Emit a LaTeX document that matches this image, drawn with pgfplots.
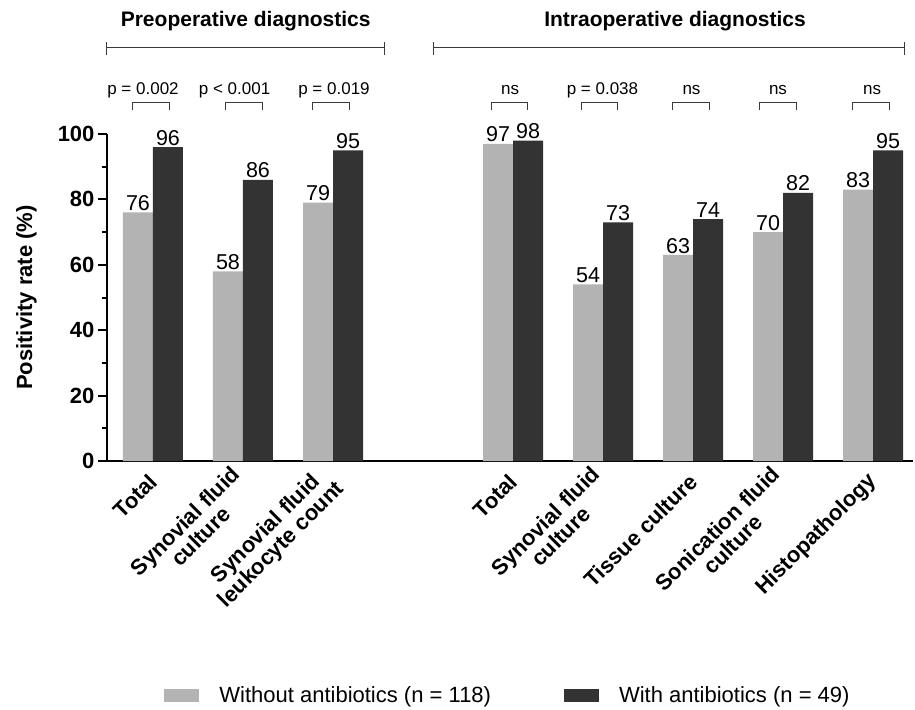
\documentclass[border=0pt]{standalone}
\usepackage{pgfplots}
\pgfplotsset{compat=1.18}
\usepackage{fontspec}
\setmainfont{Liberation Sans}
\definecolor{lightbar}{HTML}{B3B3B3}
\definecolor{darkbar}{HTML}{333333}
\definecolor{brk}{HTML}{3A3A3A}
\newcommand{\sig}[4]{%
  \draw[brk, line width=1pt] (axis cs:#1,107.3) -- (axis cs:#1,109.6) -- (axis cs:#2,109.6) -- (axis cs:#2,107.3);
  \node[anchor=base, inner sep=0pt, font=\fontsize{17pt}{17pt}\selectfont] at (axis cs:#3,112.1) {#4};}
\begin{document}
\begin{tikzpicture}
\begin{axis}[
  name=ax, at={(0,0)}, anchor=south west,
  scale only axis, width=806pt, height=327pt,
  xmin=-0.511, xmax=8.444, ymin=0, ymax=100,
  clip=false,
  axis lines=left,
  axis line style={-, line width=2.6pt, black},
  ybar=0pt, bar width=30pt,
  xtick={0,1,2,4,5,6,7,8},
  xticklabels={Total, Synovial fluid\\culture, Synovial fluid\\leukocyte count, Total, Synovial fluid\\culture, Tissue culture, Sonication fluid\\culture, Histopathology},
  x tick style={draw=none},
  xticklabel style={rotate=45, anchor=east, align=center, font=\bfseries\fontsize{22pt}{22pt}\selectfont, yshift=-6pt, xshift=-2pt},
  ytick={0,20,40,60,80,100},
  minor ytick={10,30,50,70,90},
  y tick style={line width=2pt, black},
  tick align=outside,
  major tick length=9pt, minor tick length=5pt,
  yticklabel style={font=\bfseries\fontsize{22pt}{22pt}\selectfont},
  /pgf/number format/assume math mode=true,
  ylabel={\bfseries Positivity rate (\%)},
  ylabel style={font=\fontsize{22pt}{22pt}\selectfont, at={(axis description cs:-0.0999,0.5)}, anchor=center},
  nodes near coords,
  every node near coord/.append style={font=\fontsize{21.5pt}{21.5pt}\selectfont, inner sep=1.5pt, black},
  legend columns=2,
  legend style={draw=none, inner sep=0pt, outer sep=0pt, at={(axis description cs:0.0712,-0.7156)}, anchor=west, font=\fontsize{22pt}{22pt}\selectfont, nodes={inner sep=0pt},
    /tikz/every odd column/.append style={column sep=20pt},
    /tikz/every even column/.append style={column sep=73pt}},
  legend cell align=left,
]
\addplot[fill=lightbar, draw=none, legend image code/.code={\fill[lightbar] (0pt,-6.5pt) rectangle (35pt,6.5pt);}] coordinates {(0,76) (1,58) (2,79) (4,97) (5,54) (6,63) (7,70) (8,83)};
\addlegendentry{Without antibiotics (n = 118)}
\addplot[fill=darkbar, draw=none, legend image code/.code={\fill[darkbar] (0pt,-6.5pt) rectangle (35pt,6.5pt);}] coordinates {(0,96) (1,86) (2,95) (4,98) (5,73) (6,74) (7,82) (8,95)};
\addlegendentry{With antibiotics (n = 49)}

% group headers
\draw[brk, line width=1pt] (axis cs:-0.511,126.3) -- (axis cs:2.567,126.3);
\draw[brk, line width=1pt] (axis cs:-0.511,124.2) -- (axis cs:-0.511,128.2);
\draw[brk, line width=1pt] (axis cs:2.567,124.2) -- (axis cs:2.567,128.2);
\draw[brk, line width=1pt] (axis cs:3.111,126.3) -- (axis cs:8.344,126.3);
\draw[brk, line width=1pt] (axis cs:3.111,124.2) -- (axis cs:3.111,128.2);
\draw[brk, line width=1pt] (axis cs:8.344,124.2) -- (axis cs:8.344,128.2);
\node[anchor=base, inner sep=0pt, font=\bfseries\fontsize{21pt}{21pt}\selectfont] at (axis cs:1.03,132.8) {Preoperative diagnostics};
\node[anchor=base, inner sep=0pt, font=\bfseries\fontsize{21pt}{21pt}\selectfont] at (axis cs:5.80,132.8) {Intraoperative diagnostics};

% significance brackets
\sig{-0.233}{0.178}{-0.111}{p = 0.002}
\sig{0.811}{1.222}{0.906}{p < 0.001}
\sig{1.767}{2.178}{2.011}{p = 0.019}
\sig{3.756}{4.156}{3.967}{ns}
\sig{4.756}{5.156}{4.994}{p = 0.038}
\sig{5.767}{6.178}{5.983}{ns}
\sig{6.733}{7.144}{6.944}{ns}
\sig{7.767}{8.178}{7.989}{ns}
\end{axis}
\pgfresetboundingbox
\path (-107pt,-248pt) rectangle (808pt,461pt);
\end{tikzpicture}
\end{document}
